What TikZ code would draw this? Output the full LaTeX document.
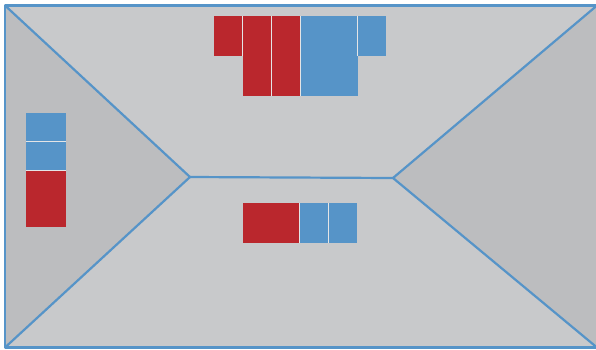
\documentclass[tikz,border=0pt]{standalone}
\definecolor{bgl}{HTML}{C8C9CB}
\definecolor{bgd}{HTML}{BCBDBF}
\definecolor{lblue}{HTML}{5694C8}
\definecolor{lred}{HTML}{BA272D}
\definecolor{gapc}{HTML}{E4E5E6}
\tikzset{
  edge/.style={draw=lblue,line width=2.2pt,line join=round},
  cell/.style={rectangle,inner sep=0pt,outer sep=0pt,anchor=north west},
  rcell/.style={cell,fill=lred},
  bcell/.style={cell,fill=lblue},
  sep/.style={draw=gapc,line width=0.9pt}
}
\begin{document}
\begin{tikzpicture}[x=1pt,y=-1pt]
\useasboundingbox (0,0) rectangle (596,349);
\coordinate (tl) at (5,5.5);
\coordinate (tr) at (597,5.5);
\coordinate (bl) at (5,347.5);
\coordinate (br) at (597,347.5);
\coordinate (vl) at (190,177);
\coordinate (vr) at (393,178);
\fill[bgl] (tl) rectangle (br);
\fill[bgd] (tl) -- (vl) -- (bl) -- cycle;
\fill[bgd] (tr) -- (vr) -- (br) -- cycle;
% top blocks
\node[rcell,minimum width=28.5pt,minimum height=40pt] (t1) at (214,16) {};
\node[rcell,minimum width=29pt,minimum height=80pt] (t2) at (242.5,16) {};
\node[rcell,minimum width=29pt,minimum height=80pt] (t3) at (271.5,16) {};
\node[bcell,minimum width=57pt,minimum height=80pt] (t4) at (300.5,16) {};
\node[bcell,minimum width=28.5pt,minimum height=40pt] (t5) at (357.5,16) {};
\draw[sep] (t1.north east) -- (t1.south east);
\draw[sep] (t2.north east) -- (t2.south east);
\draw[sep] (t3.north east) -- (t3.south east);
\draw[sep] (t5.north west) -- (t5.south west);
% left blocks
\node[bcell,minimum width=40pt,minimum height=28.5pt] (l1) at (26,113) {};
\node[bcell,minimum width=40pt,minimum height=29pt] (l2) at (26,141.5) {};
\node[rcell,minimum width=40pt,minimum height=56.5pt] (l3) at (26,170.5) {};
\draw[sep] (l2.north west) -- (l2.north east);
\draw[sep] (l3.north west) -- (l3.north east);
% bottom blocks
\node[rcell,minimum width=56.5pt,minimum height=40pt] (b1) at (243,203) {};
\node[bcell,minimum width=29pt,minimum height=40pt] (b2) at (299.5,203) {};
\node[bcell,minimum width=28.5pt,minimum height=40pt] (b3) at (328.5,203) {};
\draw[sep] (b2.north west) -- (b2.south west);
\draw[sep] (b3.north west) -- (b3.south west);
% lines
\draw[edge] (tl) -- (vl) -- (bl);
\draw[edge] (tr) -- (vr) -- (br);
\draw[edge] (vl) -- (vr);
\draw[edge] (tl) rectangle (br);
\end{tikzpicture}
\end{document}
